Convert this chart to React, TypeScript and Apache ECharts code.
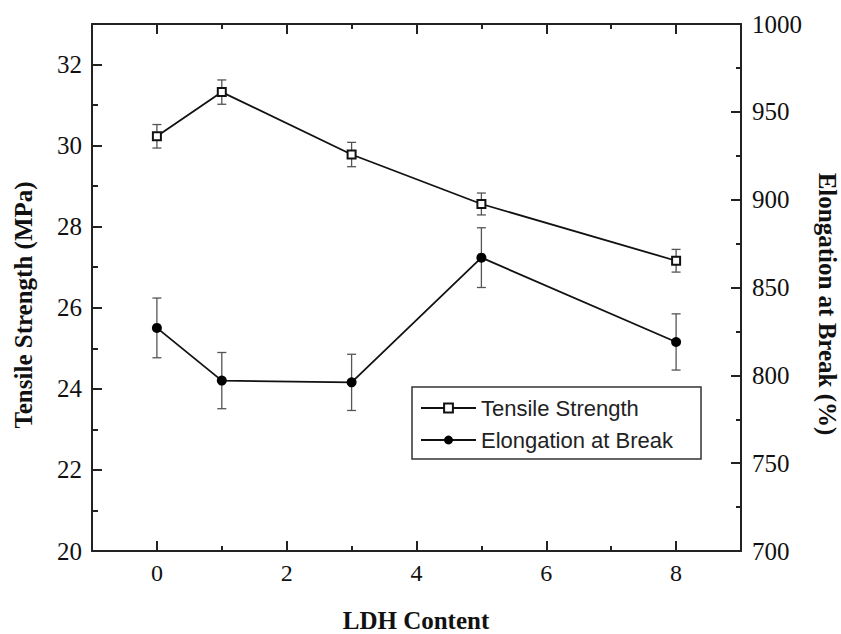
import React, { useEffect, useRef } from "react";
import * as echarts from "echarts";

const ldhContent = [0, 1, 3, 5, 8];
const tensileStrength = [30.23, 31.32, 29.78, 28.56, 27.16];
const tensileError = [0.29, 0.3, 0.3, 0.27, 0.28];
const elongation = [827, 797, 796, 867, 819];
const elongationError = [17, 16, 16, 17, 16];

const xMajorTicks = [0, 2, 4, 6, 8];
const xMinorTicks = [1, 3, 5, 7];
const leftMajorTicks = [20, 22, 24, 26, 28, 30, 32];
const leftMinorTicks = [21, 23, 25, 27, 29, 31];

const SERIF = "'Liberation Serif', 'Times New Roman', serif";
const SANS = "'Liberation Sans', Arial, sans-serif";
const AXIS_COLOR = "#222";

function errorBarRender(params: any, api: any) {
  const x = api.value(0);
  const lo = api.value(1);
  const hi = api.value(2);
  const p1 = api.coord([x, lo]);
  const p2 = api.coord([x, hi]);
  const hw = 4.5;
  const style = { stroke: "#555", lineWidth: 1.3 };
  return {
    type: "group",
    children: [
      { type: "line", shape: { x1: p1[0], y1: p1[1], x2: p2[0], y2: p2[1] }, style },
      { type: "line", shape: { x1: p1[0] - hw, y1: p1[1], x2: p1[0] + hw, y2: p1[1] }, style },
      { type: "line", shape: { x1: p2[0] - hw, y1: p2[1], x2: p2[0] + hw, y2: p2[1] }, style },
    ],
  };
}

export default function App() {
  const ref = useRef<HTMLDivElement>(null);

  useEffect(() => {
    if (!ref.current) return;
    const chart = echarts.init(ref.current, null, { renderer: "svg" });

    const tensileData = ldhContent.map((x, i) => [x, tensileStrength[i]]);
    const elongData = ldhContent.map((x, i) => [x, elongation[i]]);
    const tensileErrData = ldhContent.map((x, i) => [
      x,
      tensileStrength[i] - tensileError[i],
      tensileStrength[i] + tensileError[i],
    ]);
    const elongErrData = ldhContent.map((x, i) => [
      x,
      elongation[i] - elongationError[i],
      elongation[i] + elongationError[i],
    ]);

    const labelStyle = (size: number) => ({
      fontFamily: SERIF,
      fontSize: size,
      color: "#111",
      formatter: (v: number) => String(v),
    });

    const baseX = {
      type: "value",
      min: -1,
      max: 9,
      splitLine: { show: false },
      gridIndex: 0,
    };
    const baseYLeft = {
      type: "value",
      min: 20,
      max: 33,
      position: "left",
      splitLine: { show: false },
      alignTicks: false,
    };
    const line = { show: true, onZero: false, lineStyle: { color: AXIS_COLOR, width: 2 } };
    const noLine = { show: false, onZero: false };
    const tickStyle = { color: AXIS_COLOR, width: 2 };

    chart.setOption({
      animation: false,
      backgroundColor: "#fff",
      textStyle: { fontFamily: SERIF },
      grid: { left: 92, top: 24, width: 649, height: 527, containLabel: false },
      xAxis: [
        {
          ...baseX,
          position: "bottom",
          axisLine: line,
          axisTick: { show: true, inside: true, length: 10, customValues: xMajorTicks, lineStyle: tickStyle },
          axisLabel: { ...labelStyle(24), show: true, customValues: xMajorTicks, margin: 10 },
        },
        {
          ...baseX,
          position: "bottom",
          axisLine: noLine,
          axisTick: { show: true, inside: true, length: 5, customValues: xMinorTicks, lineStyle: tickStyle },
          axisLabel: { show: false },
        },
        {
          ...baseX,
          position: "top",
          axisLine: line,
          axisTick: { show: true, inside: true, length: 10, customValues: xMajorTicks, lineStyle: tickStyle },
          axisLabel: { show: false },
        },
        {
          ...baseX,
          position: "top",
          axisLine: noLine,
          axisTick: { show: true, inside: true, length: 5, customValues: xMinorTicks, lineStyle: tickStyle },
          axisLabel: { show: false },
        },
      ],
      yAxis: [
        {
          ...baseYLeft,
          axisLine: line,
          axisTick: { show: true, inside: true, length: 10, customValues: leftMajorTicks, lineStyle: tickStyle },
          axisLabel: { ...labelStyle(25), show: true, customValues: leftMajorTicks, margin: 10 },
        },
        {
          type: "value",
          min: 700,
          max: 1000,
          interval: 50,
          position: "right",
          alignTicks: false,
          splitLine: { show: false },
          axisLine: line,
          axisTick: { show: true, inside: true, length: 10, lineStyle: tickStyle },
          minorTick: { show: true, splitNumber: 2, length: 5, lineStyle: tickStyle },
          axisLabel: { ...labelStyle(25), show: true, margin: 11 },
        },
        {
          ...baseYLeft,
          axisLine: noLine,
          axisTick: { show: true, inside: true, length: 6, customValues: leftMinorTicks, lineStyle: tickStyle },
          axisLabel: { show: false },
        },
      ],
      legend: {
        show: true,
        orient: "vertical",
        left: 412,
        top: 387,
        padding: [10, 28, 8, 8],
        itemGap: 10,
        itemWidth: 55,
        itemHeight: 11,
        borderColor: "#333",
        borderWidth: 1.5,
        selectedMode: false,
        data: ["Tensile Strength", "Elongation at Break"],
        textStyle: {
          fontFamily: SANS,
          fontSize: 22,
          lineHeight: 22,
          color: "#222",
        },
      },
      graphic: [
        {
          type: "text",
          x: 23,
          y: 305,
          rotation: Math.PI / 2,
          style: {
            text: "Tensile Strength (MPa)",
            fontFamily: SERIF,
            fontWeight: "bold",
            fontSize: 25,
            fill: "#111",
            align: "center",
            verticalAlign: "middle",
          },
        },
        {
          type: "text",
          x: 827,
          y: 304,
          rotation: -Math.PI / 2,
          style: {
            text: "Elongation at Break (%)",
            fontFamily: SERIF,
            fontWeight: "bold",
            fontSize: 25,
            fill: "#111",
            align: "center",
            verticalAlign: "middle",
          },
        },
        {
          type: "text",
          x: 416,
          y: 620,
          style: {
            text: "LDH Content",
            fontFamily: SERIF,
            fontWeight: "bold",
            fontSize: 25,
            fill: "#111",
            align: "center",
            verticalAlign: "middle",
          },
        },
      ],
      series: [
        {
          name: "Tensile Strength error",
          type: "custom",
          xAxisIndex: 0,
          yAxisIndex: 0,
          renderItem: errorBarRender,
          encode: { x: 0, y: [1, 2] },
          data: tensileErrData,
          z: 1,
        },
        {
          name: "Elongation at Break error",
          type: "custom",
          xAxisIndex: 0,
          yAxisIndex: 1,
          renderItem: errorBarRender,
          encode: { x: 0, y: [1, 2] },
          data: elongErrData,
          z: 1,
        },
        {
          name: "Tensile Strength",
          type: "line",
          xAxisIndex: 0,
          yAxisIndex: 0,
          data: tensileData,
          symbol: "emptyRect",
          symbolSize: 8,
          color: "#111",
          lineStyle: { color: "#111", width: 1.8 },
          itemStyle: { color: "#111", borderColor: "#333", borderWidth: 1.2 },
          z: 3,
        },
        {
          name: "Elongation at Break",
          type: "line",
          xAxisIndex: 0,
          yAxisIndex: 1,
          data: elongData,
          symbol: "circle",
          symbolSize: 10,
          color: "#000",
          lineStyle: { color: "#111", width: 1.8 },
          itemStyle: { color: "#000" },
          z: 3,
        },
      ],
    });

    return () => chart.dispose();
  }, []);

  return (
    <div
      ref={ref}
      style={{ position: "absolute", left: 0, top: 0, width: 841, height: 634 }}
    />
  );
}
